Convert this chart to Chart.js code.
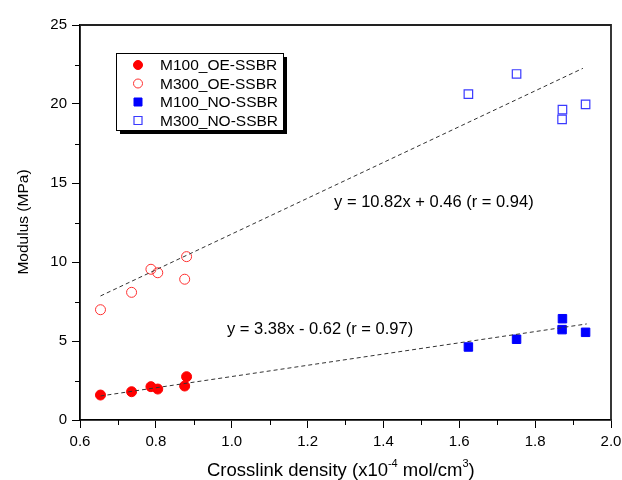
<!DOCTYPE html>
<html lang="en">
<head>
    <meta charset="UTF-8">
    <title>Modulus vs crosslink density</title>
    <script src="https://cdn.jsdelivr.net/npm/chart.js"></script>
    <style>
        html, body { margin: 0; padding: 0; background: #ffffff; }
        #wrap { width: 622px; height: 480px; }
    </style>
</head>
<body>
    <div id="wrap"><canvas id="chart" width="622" height="480"></canvas></div>

    <script>
        // data
        const m100OeX = [0.654, 0.736, 0.787, 0.805, 0.876, 0.881];
        const m100OeY = [1.58, 1.79, 2.11, 1.96, 2.15, 2.74];
        const m300OeX = [0.654, 0.736, 0.787, 0.805, 0.876, 0.881];
        const m300OeY = [6.98, 8.08, 9.54, 9.32, 8.91, 10.34];
        const m100NoX = [1.624, 1.751, 1.872, 1.871, 1.933];
        const m100NoY = [4.62, 5.11, 6.41, 5.72, 5.55];
        const m300NoX = [1.624, 1.751, 1.872, 1.871, 1.933];
        const m300NoY = [20.63, 21.90, 19.64, 19.03, 19.98];

        // fitted lines, end points
        const fitUpperX = [0.654, 1.926];
        const fitUpperY = [7.85, 22.26];
        const fitLowerX = [0.654, 1.936];
        const fitLowerY = [1.52, 6.08];

        const seriesNames = ['M100_OE-SSBR', 'M300_OE-SSBR', 'M100_NO-SSBR', 'M300_NO-SSBR'];
        const equations = ['y = 10.82x + 0.46 (r = 0.94)', 'y = 3.38x - 0.62 (r = 0.97)'];
        const equationPos = [[1.533, 13.8], [1.233, 5.7]];

        const FONT = '"Liberation Sans", Arial, sans-serif';

        function pts(xs, ys) {
            return xs.map((x, i) => ({ x: x, y: ys[i] }));
        }

        const datasets = [
            {
                label: 'fitUpper', data: pts(fitUpperX, fitUpperY), showLine: true,
                borderColor: '#333333', borderWidth: 1, borderDash: [4, 3], pointRadius: 0
            },
            {
                label: 'fitLower', data: pts(fitLowerX, fitLowerY), showLine: true,
                borderColor: '#333333', borderWidth: 1, borderDash: [4, 3], pointRadius: 0
            },
            {
                label: seriesNames[0], data: pts(m100OeX, m100OeY), pointStyle: 'circle',
                pointRadius: 5, backgroundColor: '#ff0000', borderColor: '#ff0000', borderWidth: 1
            },
            {
                label: seriesNames[1], data: pts(m300OeX, m300OeY), pointStyle: 'circle',
                pointRadius: 5, backgroundColor: 'rgba(0,0,0,0)', borderColor: '#ff3030', borderWidth: 1
            },
            {
                label: seriesNames[2], data: pts(m100NoX, m100NoY), pointStyle: 'rect',
                pointRadius: 6, backgroundColor: '#0000ff', borderColor: '#0000ff', borderWidth: 1
            },
            {
                label: seriesNames[3], data: pts(m300NoX, m300NoY), pointStyle: 'rect',
                pointRadius: 6, backgroundColor: 'rgba(0,0,0,0)', borderColor: '#3a3aff', borderWidth: 1.2
            }
        ];

        const extras = {
            id: 'extras',
            afterDraw(chart) {
                const ctx = chart.ctx;
                const xs = chart.scales.x, ys = chart.scales.y;
                const a = chart.chartArea;
                ctx.save();

                // frame top and right
                ctx.strokeStyle = '#222';
                ctx.lineWidth = 1.8;
                ctx.beginPath();
                ctx.moveTo(a.left, a.top);
                ctx.lineTo(a.right, a.top);
                ctx.lineTo(a.right, a.bottom);
                ctx.stroke();

                // minor ticks
                ctx.strokeStyle = '#000';
                ctx.lineWidth = 1;
                ctx.beginPath();
                for (let v = 0.7; v < 2.0; v += 0.2) {
                    const px = Math.round(xs.getPixelForValue(v)) + 0.5;
                    ctx.moveTo(px, a.bottom);
                    ctx.lineTo(px, a.bottom + 5);
                }
                for (let v = 2.5; v < 25; v += 5) {
                    const py = Math.round(ys.getPixelForValue(v)) + 0.5;
                    ctx.moveTo(a.left, py);
                    ctx.lineTo(a.left - 5, py);
                }
                ctx.stroke();

                // y title
                ctx.fillStyle = '#000';
                ctx.font = '15.5px ' + FONT;
                ctx.textAlign = 'center';
                ctx.textBaseline = 'middle';
                ctx.save();
                ctx.translate(24, 222);
                ctx.rotate(-Math.PI / 2);
                ctx.fillText('Modulus (MPa)', 0, 0);
                ctx.restore();

                // x title with superscripts
                const parts = [
                    ['Crosslink density (x10', false],
                    ['-4', true],
                    [' mol/cm', false],
                    ['3', true],
                    [')', false]
                ];
                let cx = 207;
                ctx.textAlign = 'left';
                ctx.textBaseline = 'alphabetic';
                parts.forEach(p => {
                    ctx.font = (p[1] ? '11px ' : '18.5px ') + FONT;
                    ctx.fillText(p[0], cx, p[1] ? 467 : 476);
                    cx += ctx.measureText(p[0]).width;
                });

                // equations
                ctx.font = '16.5px ' + FONT;
                ctx.textAlign = 'center';
                ctx.textBaseline = 'middle';
                equations.forEach((t, i) => {
                    ctx.fillText(t, xs.getPixelForValue(equationPos[i][0]), ys.getPixelForValue(equationPos[i][1]));
                });

                // legend box with shadow
                const bx = 116, by = 53, bw = 167, bh = 77;
                ctx.fillStyle = '#000';
                ctx.fillRect(bx + 4, by + 4, bw, bh);
                ctx.fillStyle = '#fff';
                ctx.fillRect(bx, by, bw, bh);
                ctx.strokeStyle = '#000';
                ctx.lineWidth = 1;
                ctx.strokeRect(bx + 0.5, by + 0.5, bw, bh);
                ctx.font = '15.5px ' + FONT;
                ctx.textAlign = 'left';
                ctx.textBaseline = 'middle';
                for (let i = 0; i < 4; i++) {
                    const ds = chart.data.datasets[i + 2];
                    const ly = by + 12 + i * 18.5;
                    const mx = 138;
                    ctx.lineWidth = ds.borderWidth;
                    ctx.strokeStyle = ds.borderColor;
                    ctx.fillStyle = ds.backgroundColor;
                    ctx.beginPath();
                    if (ds.pointStyle === 'circle') {
                        ctx.arc(mx, ly, 4.5, 0, Math.PI * 2);
                    } else {
                        ctx.rect(mx - 4, ly - 4, 8, 8);
                    }
                    ctx.fill();
                    ctx.stroke();
                    ctx.fillStyle = '#000';
                    ctx.fillText(seriesNames[i], 160, ly + 1);
                }
                ctx.restore();
            }
        };

        new Chart(document.getElementById('chart'), {
            type: 'scatter',
            data: { datasets: datasets },
            options: {
                responsive: false,
                animation: false,
                events: [],
                layout: { padding: { top: 25, right: 11, left: 0, bottom: 0 } },
                plugins: { legend: { display: false }, tooltip: { enabled: false } },
                scales: {
                    x: {
                        type: 'linear', min: 0.6, max: 2.0,
                        afterFit: s => { s.height = 60; s.paddingLeft = 0; s.paddingRight = 0; },
                        border: { display: true, color: '#000', width: 1.8 },
                        grid: { drawOnChartArea: false, drawTicks: true, tickLength: 8, tickColor: '#000' },
                        ticks: {
                            stepSize: 0.2, padding: 5, color: '#000',
                            font: { family: FONT, size: 15 },
                            callback: v => v.toFixed(1)
                        }
                    },
                    y: {
                        type: 'linear', min: 0, max: 25,
                        afterFit: s => { s.width = 80; s.paddingTop = 0; s.paddingBottom = 0; },
                        border: { display: true, color: '#000', width: 1.8 },
                        grid: { drawOnChartArea: false, drawTicks: true, tickLength: 8, tickColor: '#000' },
                        ticks: {
                            stepSize: 5, padding: 5, color: '#000',
                            font: { family: FONT, size: 15 }
                        }
                    }
                }
            },
            plugins: [extras]
        });
    </script>
</body>
</html>
